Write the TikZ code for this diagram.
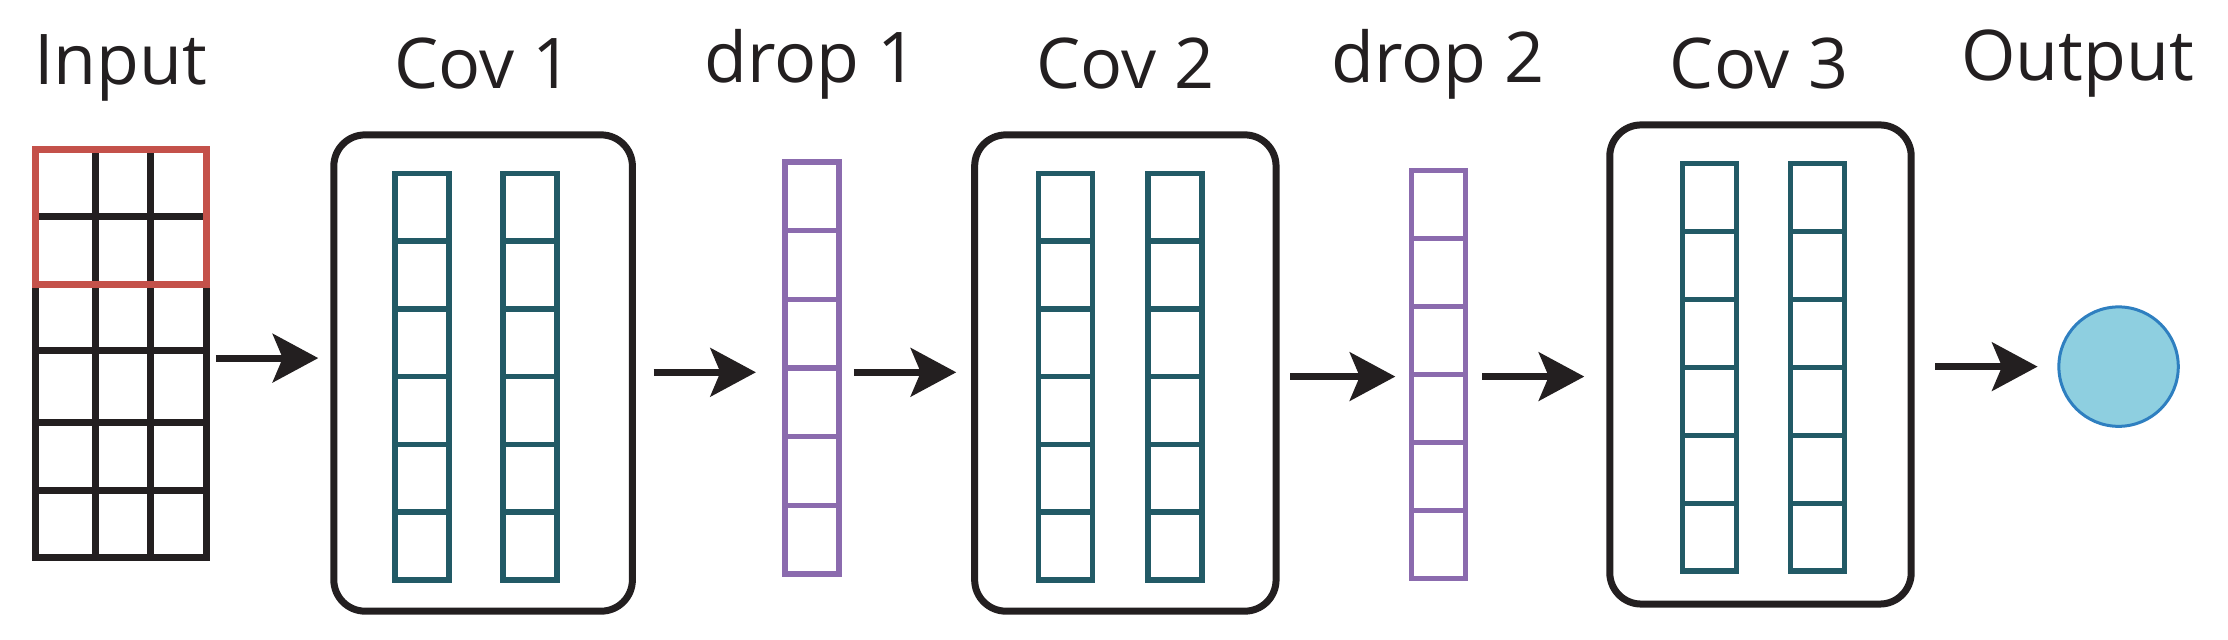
\documentclass[tikz,border=0pt]{standalone}
\usepackage{fontspec}
\setmainfont{Open Sans}
\usetikzlibrary{arrows.meta}
\definecolor{teal}{HTML}{225A66}
\definecolor{purp}{HTML}{8B6BAE}
\definecolor{redb}{HTML}{C4514A}
\definecolor{cfill}{HTML}{8ECFE0}
\definecolor{cline}{HTML}{2E7FC0}
\definecolor{blk}{HTML}{231F20}
\begin{document}
\begin{tikzpicture}[x=0.01cm,y=-0.01cm,
  lbl/.style={font=\fontsize{14}{16}\selectfont, text=blk},
  box/.style={draw=blk, line width=1.4pt, rounded corners=0.22cm, inner sep=0},
  arr/.style={draw=blk, line width=1.4pt, -{Stealth[length=0.32cm,width=0.34cm,inset=0.07cm]}},
  col/.style={draw=#1, line width=1.1pt, inner sep=0, minimum width=0.38cm}]
\useasboundingbox (0,0) rectangle (1568,450);
% labels
\node[lbl] (tIn) at (85,48) {Input};
\node[lbl] (tC1) at (340,45) {Cov 1};
\node[lbl] (tD1) at (571,45) {drop 1};
\node[lbl] (tC2) at (792,45) {Cov 2};
\node[lbl] (tD2) at (1012,45) {drop 2};
\node[lbl] (tC3) at (1238,45) {Cov 3};
\node[lbl] (tOut) at (1462,45) {Output};
% input grid
\node[draw=blk, line width=1.4pt, inner sep=0, minimum width=1.2cm, minimum height=2.87cm] (inp) at (85,248.5) {};
\foreach \x in {67,106} \draw[blk, line width=1.4pt] (\x,105) -- (\x,392);
\foreach \y in {152,247,297,345} \draw[blk, line width=1.4pt] (25,\y) -- (145,\y);
\draw[redb, line width=1.4pt] (25,105) rectangle (145,200);
% conv boxes
\node[box, minimum width=2.1cm, minimum height=3.35cm] (c1) at (340,262.5) {};
\node[box, minimum width=2.12cm, minimum height=3.35cm] (c2) at (792,262.5) {};
\node[box, minimum width=2.12cm, minimum height=3.37cm] (c3) at (1239,256.5) {};
% columns
\foreach \n/\cx/\t/\b/\c in {a/297/122/408/teal, b/373/122/408/teal, d/571.5/114/404/purp,
  e/750/122/408/teal, f/827/122/408/teal, g/1012.5/120/407/purp, h/1203/115/402/teal, i/1279/115/402/teal}{
  \node[col=\c, minimum height={(\b-\t)*0.01cm}] (k\n) at (\cx,{(\t+\b)/2}) {};
  \foreach \j in {1,...,5} \draw[\c, line width=1.1pt] (\cx-19,{\t+\j*(\b-\t)/6}) -- (\cx+19,{\t+\j*(\b-\t)/6});
}
% output
\node[circle, draw=cline, fill=cfill, line width=0.6pt, minimum size=0.84cm, inner sep=0] (out) at (1491,258) {};
% arrows
\coordinate (a1s) at (152,252); \coordinate (a1e) at (224,252);
\coordinate (a2s) at (460,262); \coordinate (a2e) at (532,262);
\coordinate (a3s) at (601,262); \coordinate (a3e) at (673,262);
\coordinate (a4s) at (908,265); \coordinate (a4e) at (982,265);
\coordinate (a5s) at (1043,265); \coordinate (a5e) at (1115,265);
\coordinate (a6s) at (1362,258); \coordinate (a6e) at (1434,258);
\begin{scope}[y=0.01cm]
\foreach \k in {1,...,6} \draw[arr] (a\k s) -- (a\k e);
\end{scope}
\end{tikzpicture}
\end{document}
